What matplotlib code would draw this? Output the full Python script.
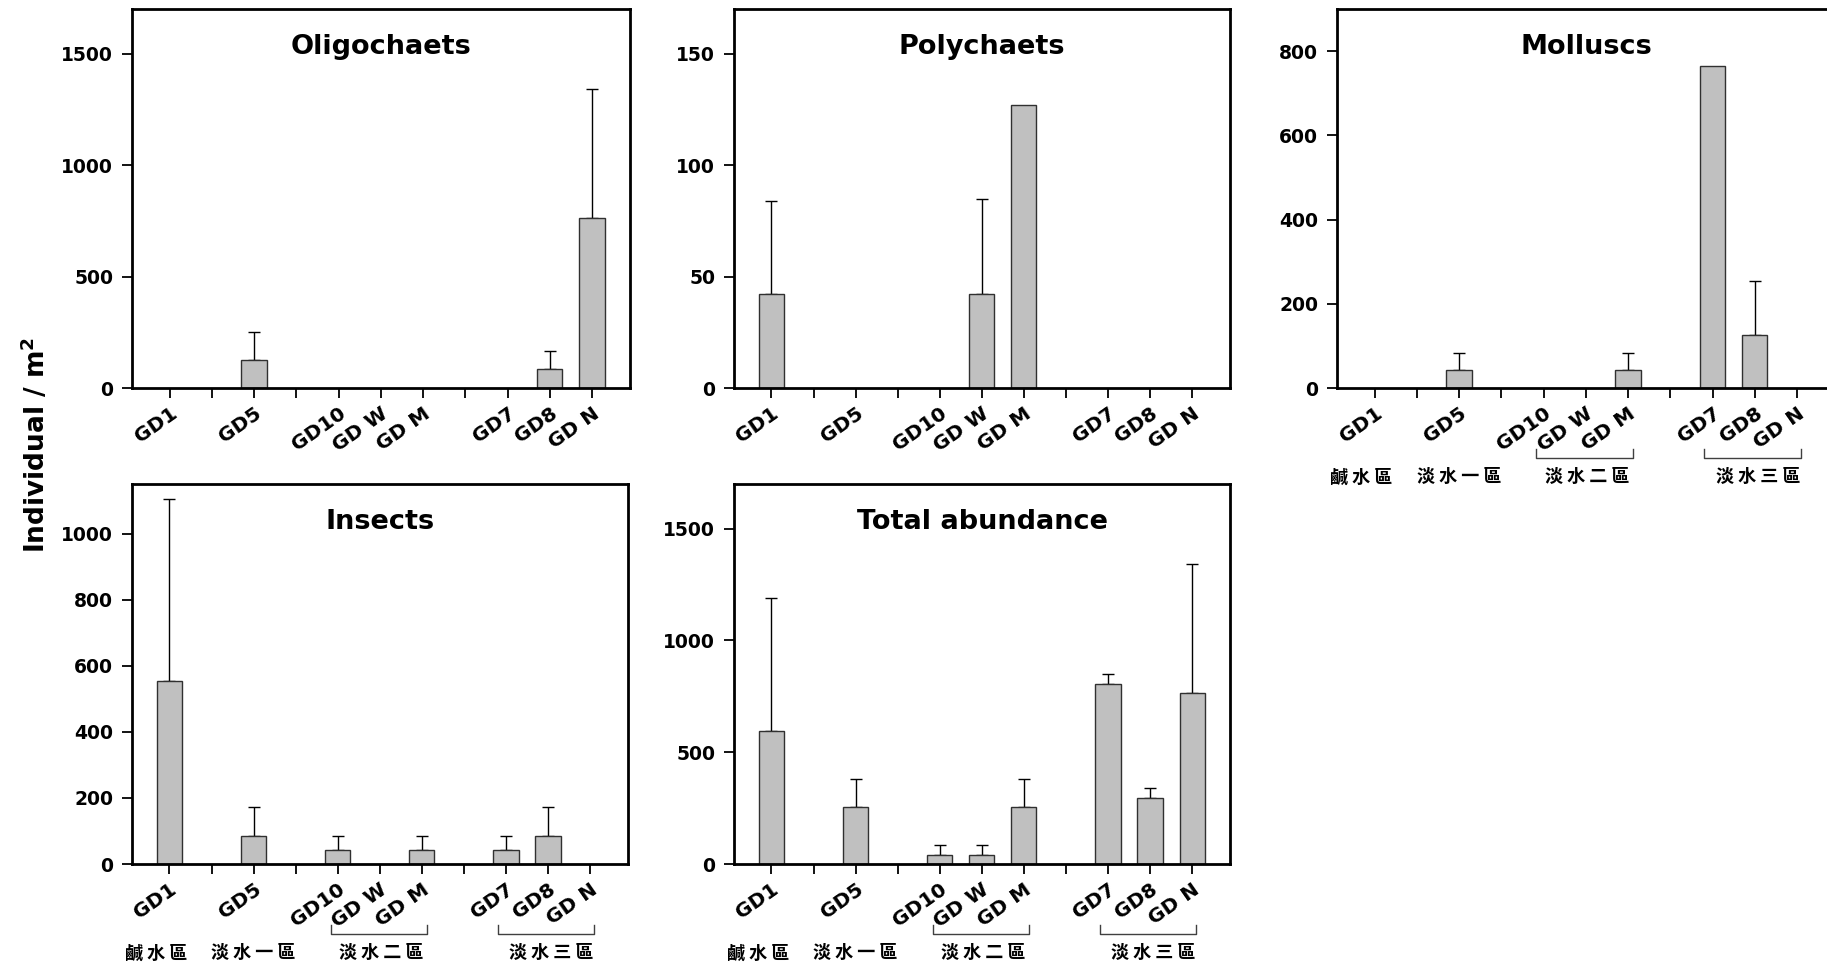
import numpy as np
import matplotlib
matplotlib.use("Agg")
import matplotlib.pyplot as plt

# ---------------- data ----------------
slot_labels = ['GD1', '', 'GD5', '', 'GD10', 'GD W', 'GD M', '', 'GD7', 'GD8', 'GD N']
sites = ['GD1', 'GD5', 'GD10', 'GD W', 'GD M', 'GD7', 'GD8', 'GD N']

oligo_mean = [0, 125, 0, 0, 0, 0, 84, 763]
oligo_sd = [0, 127, 0, 0, 0, 0, 84, 577]

poly_mean = [42, 0, 0, 42, 127, 0, 0, 0]
poly_sd = [42, 0, 0, 43, 0, 0, 0, 0]

moll_mean = [0, 42, 0, 0, 42, 764, 126, 0]
moll_sd = [0, 42, 0, 0, 42, 0, 127, 0]

insect_mean = [553, 85, 42, 0, 42, 42, 85, 0]
insect_sd = [553, 86, 43, 0, 43, 43, 86, 0]

total_mean = [593, 255, 42, 42, 255, 805, 297, 763]
total_sd = [597, 127, 43, 43, 127, 45, 43, 577]

titles = ['Oligochaets', 'Polychaets', 'Molluscs', 'Insects', 'Total abundance']
ylims = [1700, 170, 900, 1150, 1700]
yticks = [[0, 500, 1000, 1500], [0, 50, 100, 150], [0, 200, 400, 600, 800],
          [0, 200, 400, 600, 800, 1000], [0, 500, 1000, 1500]]

zones = ['鹹 水 區', '淡 水 一 區', '淡 水 二 區', '淡 水 三 區']

# ---------------- figure ----------------
W, H = 1827, 968
fig = plt.figure(figsize=(W / 100, H / 100), dpi=100)

def rect(l, r, t, b):
    return [l / W, 1 - b / H, (r - l) / W, (b - t) / H]

positions = [rect(132, 630, 9, 388), rect(734, 1230, 9, 388), rect(1337, 1835, 9, 388),
             rect(132, 628, 484, 864), rect(734, 1230, 484, 864)]

means = [oligo_mean, poly_mean, moll_mean, insect_mean, total_mean]
sds = [oligo_sd, poly_sd, moll_sd, insect_sd, total_sd]

site_slot = [slot_labels.index(s) for s in sites]
zone_x = [-0.32, 2.0, 5.04, 9.08]
brackets = [(3.83, 6.12), (7.8, 10.1)]

for i in range(5):
    ax = fig.add_axes(positions[i])
    m = np.array(means[i], dtype=float)
    s = np.array(sds[i], dtype=float)
    x = np.array(site_slot, dtype=float)
    nz = m > 0
    ax.bar(x[nz], m[nz], width=0.6, color='#c0c0c0', edgecolor='#303030',
           linewidth=1.0, zorder=2)
    e = s > 0
    ax.errorbar(x[e], m[e], yerr=[np.zeros(e.sum()), s[e]], fmt='none',
                ecolor='black', elinewidth=1.0, capsize=4.5, capthick=1.0, zorder=1)
    ax.set_xlim(-0.89, 10.9)
    ax.set_ylim(0, ylims[i])
    ax.set_yticks(yticks[i])
    ax.set_yticklabels([str(v) for v in yticks[i]], fontsize=13.5, fontweight='bold')
    ax.set_xticks(range(len(slot_labels)))
    ax.set_xticklabels(slot_labels, fontsize=14.5, fontweight='bold', rotation=35,
                       ha='right', va='top', rotation_mode='anchor')
    ax.tick_params(axis='both', direction='out', length=7.5, width=1.3, colors='black')
    ax.tick_params(axis='x', pad=4)
    ax.tick_params(axis='y', pad=6)
    for sp in ax.spines.values():
        sp.set_linewidth(2.0)
        sp.set_color('black')
    ax.text(0.5, 0.90, titles[i], transform=ax.transAxes, ha='center', va='center',
            fontsize=19.5, fontweight='bold')

    if i in (2, 3, 4):
        axh = positions[i][3] * H
        tr = ax.get_xaxis_transform()
        for zx, zt in zip(zone_x, zones):
            ax.text(zx, -89 / axh, zt, transform=tr, ha='center', va='center',
                    fontsize=13, fontweight='bold', family=['Noto Sans CJK TC', 'DejaVu Sans'],
                    clip_on=False)
        for (a, b) in brackets:
            ax.plot([a, a, b, b], [-61 / axh, -70 / axh, -70 / axh, -61 / axh],
                    transform=tr, color='#404040', lw=1.0, clip_on=False)

fig.text(36 / W, 1 - 445 / H, r'Individual / m$^{\mathbf{2}}$', rotation=90,
         ha='center', va='center', fontsize=19, fontweight='bold')

fig.savefig('out.png', dpi=100)
